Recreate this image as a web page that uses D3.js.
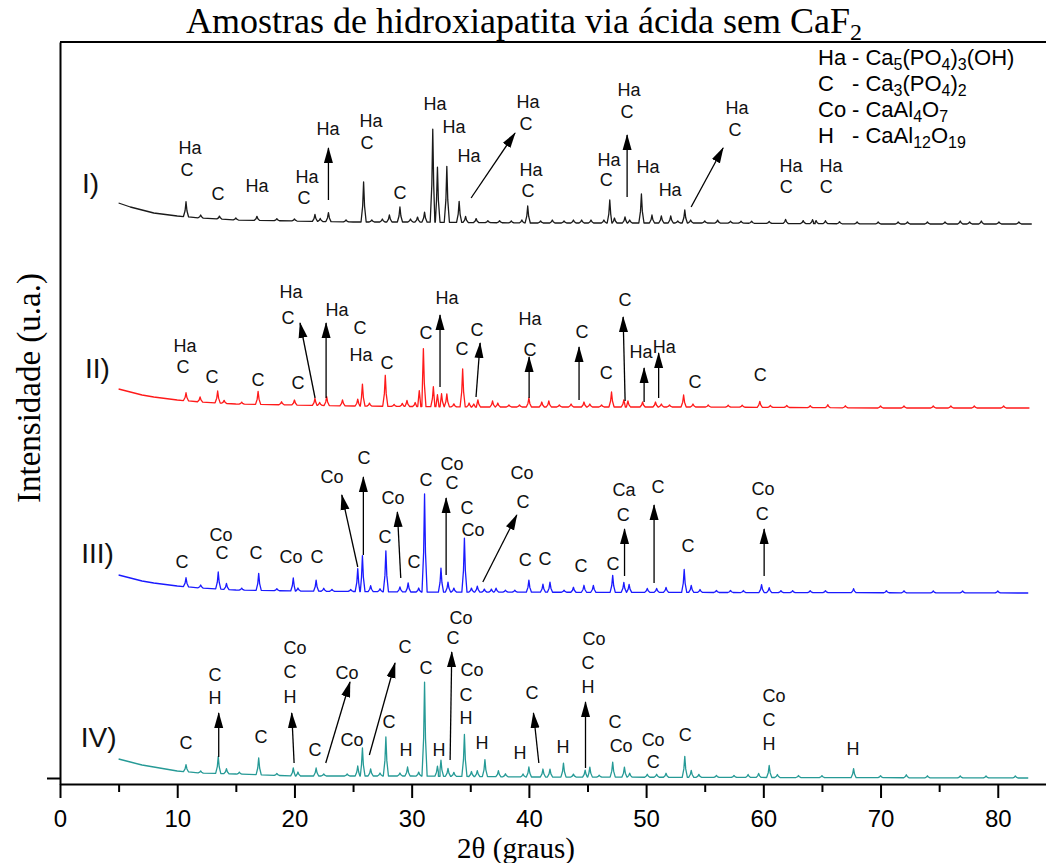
<!DOCTYPE html>
<html>
<head>
<meta charset="utf-8">
<script src="https://cdn.jsdelivr.net/npm/d3@7"></script>
<style>
	body { margin: 0; background: #fff; }
	svg { display: block; }
	.tick-label { font-family: 'Liberation Sans', Arial, sans-serif; font-size: 24px; }
	.annot { font-family: 'Liberation Sans', Arial, sans-serif; font-size: 18px; fill: #111; }
	.serif { font-family: 'Liberation Serif', 'Times New Roman', serif; }
</style>
</head>
<body>
<div id="chart"></div>
<script>
// series names and vertical offsets (intensity units)
const seriesNames = ['I)', 'II)', 'III)', 'IV)'];
const offsets = [554, 370, 185, 0];
const seriesColors = ['#1a1a1a', '#ff1a1a', '#1a1aff', '#269a96'];

// background (2θ, intensity above series baseline)
const bgI = [[5, 21], [6, 17], [7, 14], [8, 11], [10, 8], [12, 6], [15, 4], [20, 3], [25, 2], [30, 2], [40, 1], [55, 1], [70, 0], [82.9, 0]];
const bgII = [[5, 19], [6, 16], [7, 13], [8, 11], [10, 8], [12, 6], [15, 4], [20, 3], [25, 2], [35, 1], [55, 1], [70, 0], [82.7, 0]];
const bgIII = [[5, 18], [6, 15], [7, 12], [8, 10], [10, 7], [12, 5], [15, 3], [20, 2], [30, 1], [82.6, 0]];
const bgIV = [[5, 19], [6, 16], [7, 13], [8, 11], [10, 7], [12, 5], [15, 4], [20, 2], [30, 2], [40, 1], [82.6, 0]];

// peaks (2θ, height above background)
const peaksI = [[10.75, 15], [12.0, 3], [13.6, 3], [15.0, 2], [16.8, 4], [18.5, 2], [20.0, 2], [21.75, 7], [22.2, 3], [22.9, 9], [24.4, 2], [25.9, 40], [26.6, 2], [27.5, 3], [28.1, 7], [29.0, 15], [29.9, 3], [30.5, 5], [31.1, 10], [31.8, 93], [32.2, 55], [33.0, 56], [34.05, 21], [34.6, 6], [35.5, 4], [36.5, 2], [37.5, 2], [38.5, 2], [39.4, 3], [39.9, 17], [41.0, 2], [42.0, 3], [43.0, 2], [43.8, 3], [44.5, 3], [45.3, 3], [46.4, 3], [46.9, 23], [47.3, 5], [48.2, 6], [48.6, 3], [49.6, 29], [50.5, 8], [51.3, 7], [52.1, 7], [52.7, 2], [53.3, 13], [53.8, 3], [55.0, 2], [56.1, 3], [57.2, 2], [58.1, 2], [59.0, 2], [60.5, 2], [61.9, 4], [63.4, 3], [64.2, 4], [64.5, 3], [65.3, 3], [66.5, 2], [68.0, 2], [69.8, 2], [71.5, 2], [72.3, 2], [74.0, 2], [75.5, 2], [76.8, 3], [77.6, 2], [78.6, 3], [80.1, 2], [81.8, 2]];
const peaksII = [[10.75, 8], [11.95, 5], [13.45, 12], [14.0, 3], [15.5, 2], [16.9, 13], [18.9, 3], [20.0, 5], [21.75, 7], [22.15, 3], [22.75, 9], [24.1, 6], [25.4, 7], [25.8, 22], [26.4, 3], [27.75, 31], [28.5, 2], [29.2, 3], [29.6, 6], [30.3, 4], [30.65, 16], [31.0, 58], [31.85, 20], [32.2, 12], [32.55, 13], [33.0, 13], [33.6, 3], [34.35, 38], [34.9, 4], [35.3, 3], [35.65, 7], [36.9, 6], [37.35, 4], [38.3, 2], [39.2, 2], [40.0, 9], [41.1, 5], [41.7, 6], [42.6, 2], [43.6, 3], [44.7, 5], [45.2, 3], [46.2, 2], [47.05, 15], [48.1, 7], [48.45, 6], [49.7, 5], [50.8, 5], [51.3, 3], [52.0, 2], [53.2, 12], [54.0, 3], [55.3, 2], [57.0, 2], [58.2, 2], [59.7, 6], [60.6, 2], [62.0, 2], [64.0, 2], [65.5, 3], [67.0, 2], [70.0, 2], [72.0, 2], [74.5, 2], [76.0, 2], [78.0, 2], [80.5, 2]];
const peaksIII = [[10.75, 9], [12.0, 3], [13.5, 17], [14.2, 6], [15.5, 2], [16.95, 17], [18.5, 2], [19.9, 13], [20.3, 3], [21.85, 11], [22.5, 3], [23.2, 2], [24.8, 2], [25.4, 23], [25.8, 36], [26.5, 6], [27.3, 3], [27.8, 41], [29.0, 5], [29.7, 9], [30.6, 4], [31.1, 98], [32.5, 24], [33.1, 10], [33.6, 4], [34.5, 54], [35.1, 4], [35.6, 6], [36.2, 3], [36.8, 3], [37.2, 4], [38.0, 2], [38.8, 2], [40.0, 12], [41.2, 8], [41.8, 10], [43.0, 2], [43.8, 5], [44.7, 7], [45.5, 7], [47.15, 17], [48.1, 10], [48.55, 8], [50.1, 4], [50.9, 4], [51.7, 5], [53.25, 23], [53.85, 7], [54.6, 3], [56.0, 2], [57.2, 2], [58.3, 2], [59.85, 8], [60.5, 5], [61.5, 2], [62.5, 2], [64.0, 2], [65.3, 2], [67.7, 4], [70.5, 2], [72.0, 2], [74.5, 2], [77.0, 2], [80.0, 2]];
const peaksIV = [[10.75, 7], [12.0, 2], [13.5, 17], [14.2, 5], [15.3, 2], [16.95, 17], [18.5, 2], [19.9, 8], [20.3, 4], [21.85, 8], [22.5, 2], [24.5, 2], [25.4, 10], [25.8, 28], [26.5, 7], [27.3, 3], [27.8, 39], [29.0, 3], [29.65, 9], [30.6, 4], [31.1, 94], [32.2, 10], [32.5, 16], [33.1, 8], [33.6, 4], [34.5, 42], [35.1, 5], [35.6, 6], [36.25, 17], [37.4, 6], [38.0, 3], [39.5, 3], [40.0, 10], [41.2, 8], [41.8, 8], [42.95, 14], [43.8, 3], [44.8, 7], [45.2, 10], [46.0, 2], [47.15, 15], [48.15, 10], [48.6, 4], [50.1, 3], [50.9, 3], [51.7, 4], [53.3, 21], [53.85, 7], [54.5, 3], [56.0, 2], [57.5, 2], [58.7, 3], [59.6, 4], [60.5, 12], [61.2, 3], [63.0, 2], [65.0, 2], [67.7, 9], [70.0, 2], [72.2, 3], [74.0, 2], [76.8, 2], [79.0, 2], [81.5, 2]];

// phase labels (2θ, intensity, text)
const labelsI = [[11.09, 630, 'Ha'], [10.84, 608, 'C'], [13.48, 584, 'C'], [16.81, 592, 'Ha'], [21.08, 601, 'Ha'], [20.82, 580, 'C'], [22.87, 649, 'Ha'], [26.54, 657, 'Ha'], [26.19, 635, 'C'], [29.01, 585, 'C'], [32.0, 674, 'Ha'], [33.62, 651, 'Ha'], [34.9, 622, 'Ha'], [39.93, 676, 'Ha'], [39.76, 654, 'C'], [40.19, 608, 'Ha'], [39.93, 587, 'C'], [46.84, 618, 'Ha'], [46.59, 598, 'C'], [48.55, 688, 'Ha'], [48.38, 666, 'C'], [50.17, 611, 'Ha'], [52.05, 588, 'Ha'], [57.76, 670, 'Ha'], [57.59, 648, 'C'], [62.37, 612, 'Ha'], [61.95, 591, 'C'], [65.78, 612, 'Ha'], [65.36, 591, 'C']];
const labelsII = [[10.67, 432, 'Ha'], [10.49, 411, 'C'], [12.97, 401, 'C'], [16.89, 398, 'C'], [20.31, 395, 'C'], [19.71, 486, 'Ha'], [19.45, 460, 'C'], [23.63, 468, 'Ha'], [25.6, 450, 'C'], [25.68, 423, 'Ha'], [27.9, 415, 'C'], [31.23, 445, 'C'], [33.02, 480, 'Ha'], [34.3, 429, 'C'], [35.58, 448, 'C'], [40.1, 459, 'Ha'], [40.1, 428, 'C'], [44.54, 446, 'C'], [46.59, 405, 'C'], [48.21, 478, 'C'], [49.57, 426, 'Ha'], [51.54, 431, 'Ha'], [54.18, 396, 'C'], [59.73, 403, 'C']];
const labelsIII = [[10.41, 216, 'C'], [13.74, 243, 'Co'], [13.82, 225, 'C'], [16.72, 225, 'C'], [19.71, 221, 'Co'], [21.93, 221, 'C'], [23.21, 301, 'Co'], [25.94, 320, 'C'], [28.41, 280, 'Co'], [27.73, 241, 'C'], [30.2, 216, 'C'], [31.23, 298, 'C'], [33.45, 314, 'Co'], [33.45, 295, 'C'], [34.73, 270, 'C'], [35.24, 248, 'Co'], [39.42, 305, 'Co'], [39.5, 276, 'C'], [39.68, 218, 'C'], [41.38, 219, 'C'], [44.45, 212, 'C'], [47.18, 214, 'C'], [48.12, 288, 'Ca'], [48.04, 263, 'C'], [51.02, 291, 'C'], [53.58, 232, 'C'], [59.98, 289, 'Co'], [59.9, 264, 'C']];
const labelsIV = [[10.75, 35, 'C'], [13.23, 103, 'C'], [13.23, 80, 'H'], [17.15, 41, 'C'], [20.05, 130, 'Co'], [19.62, 106, 'C'], [19.62, 81, 'H'], [21.76, 28, 'C'], [24.49, 105, 'Co'], [24.91, 38, 'Co'], [29.44, 131, 'C'], [28.07, 56, 'C'], [29.52, 28, 'H'], [31.23, 110, 'C'], [32.34, 28, 'H'], [34.22, 160, 'Co'], [33.53, 140, 'C'], [35.15, 108, 'Co'], [34.64, 83, 'C'], [34.64, 60, 'H'], [36.01, 35, 'H'], [39.25, 25, 'H'], [40.27, 85, 'C'], [42.92, 31, 'H'], [45.56, 139, 'Co'], [45.05, 115, 'C'], [45.05, 91, 'H'], [47.35, 56, 'C'], [47.87, 32, 'Co'], [50.6, 38, 'Co'], [50.6, 16, 'C'], [53.33, 43, 'C'], [60.92, 82, 'Co'], [60.49, 58, 'C'], [60.49, 34, 'H'], [67.66, 29, 'H']];

// arrows (from 2θ, from intensity, to 2θ, to intensity)
const arrowsI = [[22.9, 578, 22.9, 630], [35.07, 580, 38.82, 645], [48.38, 581, 48.38, 643], [53.84, 571, 56.57, 630]];
const arrowsII = [[21.76, 380, 20.48, 455], [22.7, 380, 22.7, 455], [32.42, 391, 32.42, 463], [35.49, 381, 35.84, 435], [40.02, 380, 40.02, 421], [44.28, 378, 44.28, 431], [48.21, 377, 48.04, 461], [49.83, 376, 49.83, 410], [51.07, 380, 51.07, 425]];
const arrowsIII = [[25.4, 211, 24.04, 283], [25.88, 223, 25.88, 301], [29.07, 200, 28.78, 266], [32.94, 203, 32.94, 280], [36.07, 196, 38.97, 263], [48.16, 202, 48.16, 249], [50.68, 195, 50.68, 273], [60.07, 202, 60.07, 249]];
const arrowsIV = [[13.54, 21, 13.54, 65], [19.97, 15, 19.77, 65], [22.67, 15, 24.74, 96], [26.39, 23, 28.58, 115], [33.28, 18, 33.42, 126], [40.85, 15, 40.39, 65], [44.83, 10, 44.83, 76]];

// series label anchors (2θ, intensity)
const seriesLabelPos = [[2.6, 595], [3.2, 410], [3.2, 225], [3.3, 41]];

// legend rows: phase code and formula pieces ([text, isSubscript])
const legendCodes = ['Ha', 'C', 'Co', 'H'];
const legendFormulas = [
	[['- Ca', 0], ['5', 1], ['(PO', 0], ['4', 1], [')', 0], ['3', 1], ['(OH)', 0]],
	[['- Ca', 0], ['3', 1], ['(PO', 0], ['4', 1], [')', 0], ['2', 1]],
	[['- CaAl', 0], ['4', 1], ['O', 0], ['7', 1]],
	[['- CaAl', 0], ['12', 1], ['O', 0], ['19', 1]],
];

const xTicks = [0, 10, 20, 30, 40, 50, 60, 70, 80];
const xMinorTicks = [5, 15, 25, 35, 45, 55, 65, 75];

const width = 1046;
const height = 863;

const svg = d3.select('#chart').append('svg')
	.attr('width', width)
	.attr('height', height);

const x = d3.scaleLinear().domain([0, 84.2]).range([60, 1047]);
const y = d3.scaleLinear().domain([-6, 736]).range([784, 42]);

// arrow head
svg.append('defs').append('marker')
	.attr('id', 'head')
	.attr('markerUnits', 'userSpaceOnUse')
	.attr('markerWidth', 16)
	.attr('markerHeight', 10)
	.attr('refX', 15)
	.attr('refY', 5)
	.attr('orient', 'auto')
	.append('path')
		.attr('d', 'M0,0.5 L16,5 L0,9.5 Z')
		.attr('fill', '#000');

// build trace points from background and peak list
function tracePoints(bg, peaks) {
	const bgAt = d3.scaleLinear().domain(bg.map(d => d[0])).range(bg.map(d => d[1]));
	const hw = 0.22;
	const pts = bg.filter(([p]) => !peaks.some(([c]) => Math.abs(p - c) < hw));
	peaks.forEach(([c, h]) => {
		const b = bgAt(c);
		pts.push([c - hw, bgAt(c - hw)], [c - 0.08, b + 0.4 * h], [c, b + h],
			[c + 0.08, b + 0.4 * h], [c + hw, bgAt(c + hw)]);
	});
	return pts.sort((a, b) => a[0] - b[0]);
}

const traces = [[bgI, peaksI], [bgII, peaksII], [bgIII, peaksIII], [bgIV, peaksIV]];
const line = d3.line();

traces.forEach(([bg, peaks], i) => {
	const pts = tracePoints(bg, peaks);
	svg.append('path')
		.attr('fill', 'none')
		.attr('stroke', seriesColors[i])
		.attr('stroke-width', 1.3)
		.attr('stroke-linejoin', 'round')
		.attr('d', line(pts.map(d => [x(d[0]), y(d[1] + offsets[i])])));
});

// axes
const xAxis = d3.axisBottom(x).tickValues(xTicks).tickSize(14).tickSizeOuter(0);
const xMinor = d3.axisBottom(x).tickValues(xMinorTicks).tickSize(8).tickFormat('').tickSizeOuter(0);
const gx = svg.append('g').attr('transform', `translate(0, ${y(-6)})`).call(xAxis);
svg.append('g').attr('transform', `translate(0, ${y(-6)})`).call(xMinor)
	.select('.domain').remove();
gx.select('.domain').attr('stroke-width', 2);
gx.selectAll('.tick text').attr('class', 'tick-label').attr('y', 26).attr('fill', '#000');
svg.selectAll('.tick line').attr('stroke-width', 2);

const yAxis = d3.axisLeft(y).tickValues([0]).tickFormat('').tickSize(13).tickSizeOuter(0);
const gy = svg.append('g').attr('transform', `translate(${x(0)}, 0)`).call(yAxis);
gy.select('.domain').attr('stroke-width', 2);
gy.selectAll('.tick line').attr('stroke-width', 2);

// top border
svg.append('line')
	.attr('x1', x(0)).attr('x2', x(84.2))
	.attr('y1', y(736)).attr('y2', y(736))
	.attr('stroke', '#000').attr('stroke-width', 2);

// arrows
[arrowsI, arrowsII, arrowsIII, arrowsIV].forEach(list => {
	svg.append('g').selectAll('line')
		.data(list)
		.enter().append('line')
			.attr('x1', d => x(d[0])).attr('y1', d => y(d[1]))
			.attr('x2', d => x(d[2])).attr('y2', d => y(d[3]))
			.attr('stroke', '#000')
			.attr('stroke-width', 1.3)
			.attr('marker-end', 'url(#head)');
});

// phase labels
[labelsI, labelsII, labelsIII, labelsIV].forEach(list => {
	svg.append('g').selectAll('text')
		.data(list)
		.enter().append('text')
			.attr('class', 'annot')
			.attr('x', d => x(d[0]))
			.attr('y', d => y(d[1]))
			.attr('dy', '0.35em')
			.attr('text-anchor', 'middle')
			.text(d => d[2]);
});

// series labels
svg.append('g').selectAll('text')
	.data(seriesNames)
	.enter().append('text')
		.attr('x', (d, i) => x(seriesLabelPos[i][0]))
		.attr('y', (d, i) => y(seriesLabelPos[i][1]))
		.attr('dy', '0.35em')
		.attr('text-anchor', 'middle')
		.style('font-family', "'Liberation Sans', Arial, sans-serif")
		.style('font-size', '28px')
		.attr('fill', '#111')
		.text(d => d);

// legend
const legend = svg.append('g').style('font-family', "'Liberation Sans', Arial, sans-serif").style('font-size', '22px');
legendCodes.forEach((code, i) => {
	const ly = 65 + i * 26;
	legend.append('text').attr('x', 818).attr('y', ly).text(code);
	const t = legend.append('text').attr('x', 852).attr('y', ly);
	let shifted = false;
	legendFormulas[i].forEach(([s, sub]) => {
		const span = t.append('tspan').text(s);
		if (sub && !shifted) { span.attr('dy', 5).style('font-size', '16px'); shifted = true; }
		else if (sub) span.style('font-size', '16px');
		else if (shifted) { span.attr('dy', -5); shifted = false; }
	});
});

// title and axis titles
const title = svg.append('text')
	.attr('class', 'serif')
	.attr('x', 524).attr('y', 33)
	.attr('text-anchor', 'middle')
	.style('font-size', '36px')
	.text('Amostras de hidroxiapatita via ácida sem CaF');
title.append('tspan').attr('dy', 7).style('font-size', '24px').text('2');

svg.append('text')
	.attr('class', 'serif')
	.attr('x', 516).attr('y', 858)
	.attr('text-anchor', 'middle')
	.style('font-size', '29px')
	.text('2θ (graus)');

svg.append('text')
	.attr('class', 'serif')
	.attr('transform', 'translate(40, 388) rotate(-90)')
	.attr('text-anchor', 'middle')
	.style('font-size', '33px')
	.text('Intensidade (u.a.)');
</script>
</body>
</html>
